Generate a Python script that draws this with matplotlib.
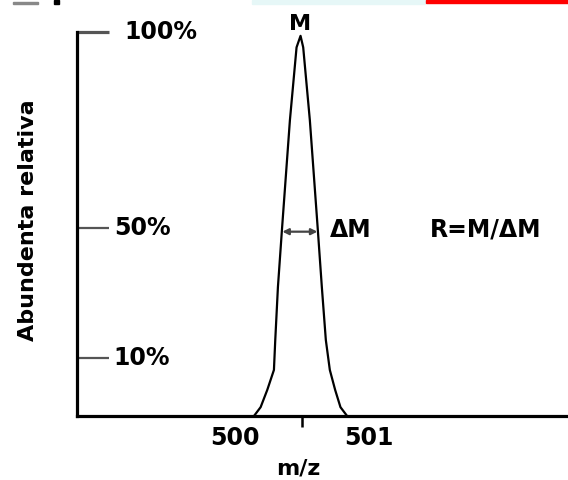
import matplotlib
matplotlib.use("Agg")
import matplotlib.pyplot as plt
from matplotlib.patches import Rectangle
import numpy as np

# peak profile (m/z, relative abundance %)
mz = [500.14, 500.19, 500.24, 500.29, 500.30, 500.32, 500.35, 500.41, 500.46, 500.49,
      500.51, 500.56, 500.62, 500.65, 500.68, 500.71, 500.75, 500.79, 500.84]
abund = [0, 2.3, 6.8, 12, 19.8, 33.6, 48.4, 77, 96, 99,
         96, 77, 48.4, 33.6, 19.8, 12, 6.8, 2.3, 0]

ytick_pos = [15, 49, 100]
ytick_labels = ["10%", "50%", "100%"]
xtick_pos = [500, 501]
xtick_labels = ["500", "501"]
center_tick = 500.5

plt.rcParams['font.family'] = ['DejaVu Sans']

fig = plt.figure(figsize=(5.68, 4.8), dpi=100)
ax = fig.add_axes([77 / 568, 64 / 480, 491 / 568, 384 / 480])

ax.plot(mz, abund, color='black', lw=1.6, solid_joinstyle='round')

ax.set_xlim(498.81, 502.50)
ax.set_ylim(0, 100)

for s in ['top', 'right']:
    ax.spines[s].set_visible(False)
for s in ['left', 'bottom']:
    ax.spines[s].set_linewidth(2.3)
    ax.spines[s].set_color('black')

# y ticks drawn inward, labels placed to the right of them
ax.set_yticks(ytick_pos)
ax.set_yticklabels([])
ax.tick_params(axis='y', direction='in', length=23, width=1.6, color='#555555')
for tk, pos in zip(ax.yaxis.get_major_ticks(), ytick_pos):
    if pos == 100:
        tk.tick1line.set_color('black')
        tk.tick1line.set_markeredgewidth(2.3)

offsets = {"100%": 34, "50%": 27, "10%": 26}
for pos, lab in zip(ytick_pos, ytick_labels):
    ax.annotate(lab, xy=(0, pos), xycoords=('axes fraction', 'data'),
                xytext=(offsets[lab], 0), textcoords='offset points',
                ha='left', va='center', fontsize=17, fontweight='bold')

# x ticks: labels only, plus small central tick
ax.set_xticks(xtick_pos)
ax.set_xticklabels(xtick_labels, fontsize=17, fontweight='bold')
ax.tick_params(axis='x', length=0, pad=7)
ax.set_xticks([center_tick], minor=True)
ax.tick_params(axis='x', which='minor', direction='out', length=8, width=1.8,
               color='black')

ax.set_xlabel("m/z", fontsize=16, fontweight='bold')
ax.xaxis.set_label_coords((298 - 77) / 491, -0.11)
fig.text(28 / 568, 1 - 220 / 480, "Abundenta relativa", rotation=90,
         ha='center', va='center', fontsize=16, fontweight='bold')

# FWHM arrow computed from the peak data
mz_a = np.array(mz)
ab_a = np.array(abund)
top = int(np.argmax(ab_a))
half = 50
x_left = np.interp(half, ab_a[:top + 1], mz_a[:top + 1])
x_right = np.interp(half, ab_a[top:][::-1], mz_a[top:][::-1])
ax.annotate('', xy=(x_left, 48), xytext=(x_right, 48),
            arrowprops=dict(arrowstyle='<|-|>', color='#444444', lw=1.6,
                            mutation_scale=9, shrinkA=0, shrinkB=0))

ax.text(mz_a[top], 100.6, "M", ha='center', va='baseline', fontsize=16,
        fontweight='bold', clip_on=False)
ax.annotate("\u0394M", xy=(x_right, 48.5), xytext=(9, 0),
            textcoords='offset points', ha='left', va='center',
            fontsize=17, fontweight='bold')
ax.text(501.46, 48.5, "R=M/\u0394M", ha='left', va='center', fontsize=17,
        fontweight='bold')

# scraps along the top edge of the original crop
fig.patches.append(Rectangle((252 / 568, 1 - 4 / 480), 173 / 568, 4 / 480,
                             transform=fig.transFigure, color='#e6f7f7'))
fig.patches.append(Rectangle((426 / 568, 1 - 3 / 480), 142 / 568, 3 / 480,
                             transform=fig.transFigure, color='red'))
fig.patches.append(Rectangle((54 / 568, 1 - 4 / 480), 5 / 568, 4 / 480,
                             transform=fig.transFigure, color='black'))
fig.patches.append(Rectangle((13 / 568, 1 - 4 / 480), 25 / 568, 1.5 / 480,
                             transform=fig.transFigure, color='#888888'))

fig.savefig("out.png", dpi=100)
